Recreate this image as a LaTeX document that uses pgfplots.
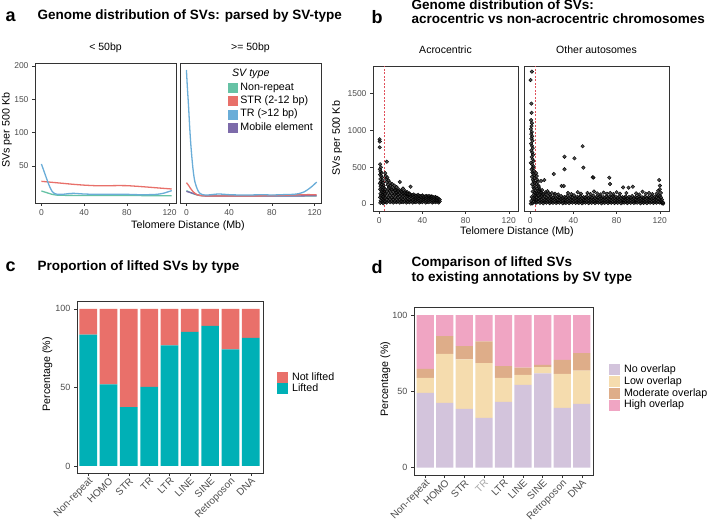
\documentclass[border=0pt]{standalone}
\usepackage{pgfplots}
\pgfplotsset{compat=1.18}
\usepackage{fontspec}
\setmainfont{Liberation Sans}

\definecolor{cNR}{HTML}{66C2A5}
\definecolor{cSTR}{HTML}{E8706A}
\definecolor{cTR}{HTML}{6AADD8}
\definecolor{cME}{HTML}{7D6BAA}
\definecolor{cLift}{HTML}{00B0B6}
\definecolor{cNot}{HTML}{E9706A}
\definecolor{cNo}{HTML}{D3C4DC}
\definecolor{cLow}{HTML}{F5DCAE}
\definecolor{cMod}{HTML}{DEAD89}
\definecolor{cHigh}{HTML}{F0A5C3}
\definecolor{tickgray}{HTML}{4D4D4D}
\definecolor{framegray}{HTML}{333333}
\definecolor{vred}{HTML}{E0505A}

\pgfplotsset{
  base/.style={scale only axis, anchor=south west,
    axis line style={framegray, line width=0.8pt},
    tick align=outside, tick pos=left, major tick length=3pt,
    tick style={framegray, line width=0.6pt},
    tick label style={tickgray, font=\fontsize{8.5}{10}\selectfont},
    /pgf/number format/assume math mode=true,
    /pgf/number format/1000 sep={},
    label style={font=\fontsize{10.7}{12}\selectfont},
    title style={font=\fontsize{10.5}{12}\selectfont},
    ylabel style={anchor=center}, xlabel style={anchor=center}},
  sqa/.style={legend image code/.code={\fill[#1] (0pt,-4.5pt) rectangle (9pt,4.5pt);}},
  sqc/.style={legend image code/.code={\fill[#1] (0pt,-5.5pt) rectangle (11pt,5.5pt);}},
  sline/.style={line width=1.3pt, smooth, tension=0.4, no markers},
  dots/.style={only marks, mark=*, mark size=1.8pt, mark options={fill=black!85, draw=none, fill opacity=0.8}},
  vline/.style={vred, line width=0.7pt, dash pattern=on 2pt off 1.5pt},
}

\begin{document}
\begin{tikzpicture}
\useasboundingbox (0,0) rectangle (708pt,522pt);

% ---------- panel a ----------
\begin{axis}[base, at={(35pt,319pt)}, width=141pt, height=140pt,
  xmin=-6, xmax=126, ymin=-5.5, ymax=204.5,
  xtick={0,40,80,120}, ytick={50,100,150,200},
  title={< 50bp}, title style={at={(axis description cs:0.5,1)}, anchor=center, yshift=9pt},
  ylabel={SVs per 500 Kb}, ylabel style={at={(axis description cs:-0.199,0.52)}},
  xlabel={Telomere Distance (Mb)}, xlabel style={at={(axis description cs:1.085,-0.16)}}]
\addplot[sline, cNR] coordinates {(0,12.5)(5,10)(10,7.5)(15,6.2)(20,6)(40,5.8)(60,5.8)(80,5.8)(100,5.5)(110,5.5)(122,5.5)};
\addplot[sline, cSTR] coordinates {(0,27)(10,25.5)(20,24)(30,22.5)(40,21.3)(50,20.5)(60,20.3)(70,20.6)(80,20.5)(90,19.5)(100,18.3)(110,17)(122,15.5)};
\addplot[sline, cTR] coordinates {(0,53)(2,44)(4,35)(6,26)(8,18)(10,12)(12,9)(15,7.5)(20,7.5)(25,8.5)(30,9)(35,8.5)(40,8)(50,7.5)(60,7.5)(70,7.5)(80,7.5)(90,7)(100,7)(108,7.5)(114,9)(118,11)(122,13)};
\end{axis}

\begin{axis}[base, at={(180pt,319pt)}, width=141pt, height=140pt,
  xmin=-6, xmax=126, ymin=-5.5, ymax=204.5,
  xtick={0,40,80,120}, ytick=\empty,
  title={>= 50bp}, title style={at={(axis description cs:0.5,1)}, anchor=center, yshift=9pt},
  legend style={at={(axis description cs:0.34,0.863)}, anchor=north west, draw=none, fill=none,
    inner sep=0pt, outer sep=0pt, font=\fontsize{10.7}{12}\selectfont, row sep=2.4pt,
    nodes={inner sep=0pt, text height=8pt, text depth=3pt},
    /tikz/every odd column/.append style={column sep=3pt}},
  legend cell align=left]
\addplot[sline, cNR, forget plot] coordinates {(0,13)(4,10)(8,7.5)(12,6)(20,5)(40,5)(60,5)(80,5)(100,5)(122,5)};
\addplot[sline, cME, forget plot] coordinates {(0,12)(4,10)(8,8)(12,6)(20,5)(40,5)(60,5)(80,5)(100,5)(122,5.5)};
\addplot[sline, cSTR, forget plot] coordinates {(0,25)(2,21)(4,16)(6,12)(8,9)(10,7)(14,5.5)(20,5)(40,5)(60,5)(80,5.5)(100,6.5)(110,7)(122,7)};
\addplot[sline, cTR, forget plot] coordinates {(0,194)(1,165)(2,140)(3,110)(4,85)(5,65)(6,48)(7,35)(8,26)(10,16)(12,10)(15,7)(20,6.5)(30,8)(40,7)(50,6.5)(60,6.5)(70,7)(80,6.5)(90,7)(100,7.5)(105,8.5)(110,11)(114,15)(118,20)(122,26)};
\addlegendimage{sqa=cNR}\addlegendentry{Non-repeat}
\addlegendimage{sqa=cSTR}\addlegendentry{STR (2-12 bp)}
\addlegendimage{sqa=cTR}\addlegendentry{TR (>12 bp)}
\addlegendimage{sqa=cME}\addlegendentry{Mobile element}
\end{axis}
\node[anchor=base west, font=\fontsize{10.7}{12}\selectfont\itshape] at (228.5pt,445pt) {SV type};

% ---------- panel b ----------
\begin{axis}[base, at={(373pt,311pt)}, width=145pt, height=145pt,
  xmin=-5.8, xmax=128.5, ymin=-95, ymax=1876,
  xtick={0,40,80,120}, ytick={0,500,1000,1500},
  title={Acrocentric}, title style={at={(axis description cs:0.5,1)}, anchor=center, yshift=10pt},
  ylabel={SVs per 500 Kb}, ylabel style={at={(axis description cs:-0.248,0.5)}},
  xlabel={Telomere Distance (Mb)}, xlabel style={at={(axis description cs:0.993,-0.145)}}]
\addplot[dots] coordinates {
(0.3,880)(0.5,850)(0.4,770)(7,575)(0.8,540)(1.5,500)(0.5,470)(1.2,440)(2,420)(0.7,400)(1.8,380)(2.6,360)(1,340)(3,320)(1.5,300)(3.5,290)(0.6,280)(2.2,260)(4,250)(1.3,240)(2.8,230)(4.3,215)(0.9,200)(3.3,190)(1.9,180)(4.6,170)(2.5,160)(3.8,150)(1.1,140)(4.9,130)(2.9,120)(1.6,110)(3.6,100)(0.7,90)(4.4,80)(2.3,70)(3.1,55)(1.4,45)(4.1,35)(2.7,25)(0.9,15)(3.6,10)
(5.5,420)(6,380)(6.5,340)(7,300)(7.5,360)(8,260)(8.5,320)(9,230)(10,290)(10.5,250)(11,200)(12,270)(13,220)(14,250)(15,190)(16,230)(17,170)(18,200)(19,300)(20,180)(21,160)(22,210)(23,150)(24,175)(25,140)(26,160)(27,130)(28,145)(29,235)(30,120)(32,130)(34,110)(36,125)(38,105)(40,115)(42,100)(44,110)(46,95)(48,105)(50,90)(52,95)(54,80)
(5.5,30)(5.5,80)(5.5,140)(5.5,200)(7,20)(7,60)(7,110)(7,170)(8.5,40)(8.5,90)(8.5,150)(8.5,210)(10,25)(10,70)(10,120)(10,180)
(11.5,35)(11.5,85)(11.5,140)(11.5,195)(13,20)(13,65)(13,115)(13,165)(14.5,30)(14.5,80)(14.5,130)(14.5,185)(16,25)(16,70)(16,120)(16,160)
(17.5,35)(17.5,85)(17.5,130)(17.5,175)(19,20)(19,60)(19,105)(19,150)(20.5,30)(20.5,75)(20.5,120)(20.5,165)(22,25)(22,65)(22,110)(22,145)
(23.5,35)(23.5,80)(23.5,120)(23.5,160)(25,20)(25,60)(25,100)(25,140)(26.5,30)(26.5,70)(26.5,110)(26.5,135)(28,25)(28,60)(28,95)(28,130)
(29.5,35)(29.5,75)(29.5,105)(31,20)(31,55)(31,90)(31,120)(32.5,30)(32.5,65)(32.5,100)(34,25)(34,55)(34,85)(34,115)(35.5,35)(35.5,70)(35.5,100)
(37,20)(37,50)(37,80)(37,110)(38.5,30)(38.5,60)(38.5,95)(40,25)(40,55)(40,85)(40,115)(41.5,35)(41.5,65)(41.5,95)(43,20)(43,50)(43,80)(43,105)
(44.5,30)(44.5,60)(44.5,90)(46,25)(46,55)(46,85)(46,110)(47.5,35)(47.5,65)(47.5,95)(49,20)(49,50)(49,80)(49,100)(50.5,30)(50.5,60)(50.5,90)
(52,25)(52,50)(52,75)(52,95)(53.5,30)(53.5,55)(53.5,85)(55,20)(55,45)(55,70)(56,35)(56,60)
};
\addplot[vline] coordinates {(5,-95)(5,1876)};
\end{axis}

\begin{axis}[base, at={(524pt,311pt)}, width=145pt, height=145pt,
  xmin=-5.8, xmax=128.5, ymin=-95, ymax=1876,
  xtick={0,40,80,120}, ytick=\empty,
  title={Other autosomes}, title style={at={(axis description cs:0.5,1)}, anchor=center, yshift=10pt}]
\addplot[dots] coordinates {
(1.5,1800)(0.3,1685)(1,1365)(1.2,1240)(0.8,1140)(1.5,1100)(1.2,1060)(0.6,1020)(1.4,980)(0.9,950)(1.8,920)(1.1,890)(2,860)(0.7,820)(1.6,790)(2.3,760)(1,730)(1.9,700)(2.6,670)(1.3,640)(2.1,610)(2.8,580)(0.5,560)(1.7,540)(3,510)(2.4,490)(1.2,470)(3.3,450)(2,430)(2.7,410)(3.6,390)(1.5,370)(3.9,350)(2.5,330)(3.2,310)(4.1,290)(1.8,270)(4.4,250)(2.9,230)(3.7,210)(4.7,190)(2.2,170)(4,150)(5,140)(3.4,125)(4.6,110)(1.3,95)(2.6,80)(3.9,65)(5.2,55)(0.9,40)(3,30)(4.8,20)(0.5,5)(2,10)
(5.5,420)(6,380)(6.5,330)(7,300)(5.8,270)(7.5,250)(8,230)(6.2,210)(8.5,200)(9,185)(7.2,175)(9.5,160)(10,150)(6.8,140)(8.8,130)(10,313)(13,326)(11,120)(12,135)(14,140)(16,175)(18,130)(20,150)
(6,20)(6,55)(6,95)(7.5,35)(7.5,75)(7.5,115)(9,15)(9,50)(9,90)(10.5,28)(10.5,62)(10.5,105)(12,10)(12,45)(12,80)(13.5,25)(13.5,58)(13.5,100)
(15,18)(15,52)(15,88)(16.5,32)(16.5,68)(16.5,110)(18,12)(18,42)(18,78)(19.5,26)(19.5,60)(19.5,96)(21,16)(21,50)(21,85)(22.5,30)(22.5,66)(22.5,120)
(24,14)(24,44)(24,80)(25.5,24)(25.5,58)(25.5,98)(27,18)(27,52)(27,88)(28.5,34)(28.5,70)(28.5,108)(30,10)(30,46)(30,82)(31.5,22)(31.5,56)(31.5,94)
(33,16)(33,50)(33,86)(34.5,28)(34.5,64)(34.5,112)(36,12)(36,44)(36,78)(37.5,26)(37.5,60)(37.5,100)(39,18)(39,52)(39,90)(40.5,30)(40.5,68)(40.5,118)
(42,14)(42,46)(42,80)(43.5,24)(43.5,58)(43.5,96)(45,16)(45,50)(45,86)(46.5,32)(46.5,66)(46.5,108)(48,10)(48,44)(48,80)(49.5,22)(49.5,56)(49.5,94)
(51,18)(51,52)(51,88)(52.5,28)(52.5,62)(52.5,104)(54,12)(54,46)(54,82)(55.5,26)(55.5,60)(55.5,98)(57,16)(57,50)(57,86)(58.5,30)(58.5,66)(58.5,114)
(60,14)(60,44)(60,78)(61.5,24)(61.5,58)(61.5,96)(63,18)(63,52)(63,90)(64.5,32)(64.5,68)(64.5,110)(66,10)(66,46)(66,80)(67.5,22)(67.5,56)(67.5,94)
(69,16)(69,50)(69,86)(70.5,28)(70.5,64)(70.5,106)(72,12)(72,44)(72,78)(73.5,26)(73.5,60)(73.5,100)(75,18)(75,52)(75,88)(76.5,30)(76.5,66)(76.5,116)
(78,14)(78,46)(78,80)(79.5,24)(79.5,58)(79.5,96)(81,16)(81,50)(81,84)(82.5,32)(82.5,64)(82.5,108)(84,10)(84,44)(84,78)(85.5,22)(85.5,56)(85.5,92)
(87,18)(87,52)(87,88)(88.5,28)(88.5,62)(88.5,102)(90,12)(90,46)(90,80)(91.5,26)(91.5,60)(91.5,96)(93,16)(93,50)(93,86)(94.5,30)(94.5,66)(94.5,110)
(96,14)(96,44)(96,76)(97.5,24)(97.5,58)(97.5,94)(99,18)(99,52)(99,88)(100.5,32)(100.5,64)(100.5,104)(102,10)(102,44)(102,78)(103.5,22)(103.5,56)(103.5,92)
(105,16)(105,50)(105,84)(106.5,28)(106.5,62)(106.5,100)(108,12)(108,46)(108,80)(109.5,26)(109.5,60)(109.5,96)(111,18)(111,52)(111,86)(112.5,30)(112.5,66)(112.5,108)
(114,14)(114,46)(114,82)(115.5,24)(115.5,60)(115.5,100)(117,18)(117,55)(117,95)(117,140)(118.5,30)(118.5,70)(118.5,120)(118.5,180)
(120,20)(120,60)(120,110)(120,200)(120,250)(121,40)(121,90)(121,150)(122,10)(122,30)(122,60)(123,5)(123,20)
(8,170)(11,190)(14,160)(17,150)(23,140)(26,130)(29,245)(31,245)(35,150)(38,135)(44,160)(47,140)(53,150)(56,135)(59,170)(62,145)(65,130)(68,155)(71,140)(74,150)(77,135)(80,160)(83,140)(86,225)(89,150)(91,222)(95,235)(98,145)(101,130)(104,167)(107,140)(110,150)(113,135)
(48.5,785)(31.7,643)(40.9,621)(31.7,472)(49.2,494)(21.8,408)(57.8,363)(58.5,360)(73.2,358)(73.8,272)(119.4,326)
};
\addplot[vline] coordinates {(5,-95)(5,1876)};
\end{axis}

% ---------- panel c ----------
\begin{axis}[base, at={(77pt,49pt)}, width=186pt, height=172pt,
  ybar stacked, bar width=0.87,
  xmin=0.45, xmax=9.6, ymin=-4.5, ymax=105,
  ytick={0,50,100}, yticklabel style={font=\fontsize{9}{10}\selectfont},
  xtick={1,...,9},
  xticklabels={Non-repeat,HOMO,STR,TR,LTR,LINE,SINE,Retroposon,DNA},
  xticklabel style={rotate=45, anchor=north east, font=\fontsize{10}{12}\selectfont, inner sep=0.5pt},
  ylabel={Percentage (\%)}, ylabel style={at={(axis description cs:-0.16,0.573)}},
  legend style={at={(axis description cs:1.074,0.587)}, anchor=north west, draw=none, fill=none,
    inner sep=0pt, outer sep=0pt, font=\fontsize{10.7}{12}\selectfont, row sep=0.3pt,
    nodes={inner sep=0pt, text height=8pt, text depth=3pt},
    /tikz/every odd column/.append style={column sep=4.3pt}},
  legend cell align=left, reverse legend]
\addplot[fill=cLift, draw=none, sqc=cLift] coordinates {(1,83.6)(2,52.0)(3,37.5)(4,50.4)(5,76.7)(6,85.4)(7,89.2)(8,74.2)(9,81.6)};
\addlegendentry{Lifted}
\addplot[fill=cNot, draw=none, sqc=cNot] coordinates {(1,16.4)(2,48.0)(3,62.5)(4,49.6)(5,23.3)(6,14.6)(7,10.8)(8,25.8)(9,18.4)};
\addlegendentry{Not lifted}
\end{axis}

% ---------- panel d ----------
\begin{axis}[base, at={(414pt,47pt)}, width=179pt, height=167.3pt,
  ybar stacked, bar width=0.88,
  xmin=0.43, xmax=9.57, ymin=-4.8, ymax=104.8,
  ytick={0,50,100}, yticklabel style={font=\fontsize{9}{10}\selectfont},
  xtick={1,...,9},
  xticklabels={Non-repeat,HOMO,STR,\textcolor{gray!70}{TR},LTR,LINE,SINE,Retroposon,DNA},
  xticklabel style={rotate=45, anchor=north east, font=\fontsize{10}{12}\selectfont, inner sep=0.5pt},
  ylabel={Percentage (\%)}, ylabel style={at={(axis description cs:-0.16,0.574)}},
  legend style={at={(axis description cs:1.088,0.662)}, anchor=north west, draw=none, fill=none,
    inner sep=0pt, outer sep=0pt, font=\fontsize{10.7}{12}\selectfont, row sep=0.9pt,
    nodes={inner sep=0pt, text height=8pt, text depth=3pt},
    /tikz/every odd column/.append style={column sep=4.3pt}},
  legend cell align=left]
\addplot[fill=cNo, draw=none, sqc=cNo] coordinates {(1,49.0)(2,42.5)(3,38.6)(4,32.6)(5,43.1)(6,54.3)(7,61.7)(8,39.2)(9,41.8)};
\addlegendentry{No overlap}
\addplot[fill=cLow, draw=none, sqc=cLow] coordinates {(1,9.8)(2,32.0)(3,32.3)(4,35.9)(5,15.8)(6,6.5)(7,4.2)(8,22.3)(9,21.7)};
\addlegendentry{Low overlap}
\addplot[fill=cMod, draw=none, sqc=cMod] coordinates {(1,5.9)(2,11.6)(3,8.7)(4,14.2)(5,7.6)(6,4.8)(7,1.5)(8,9.2)(9,11.6)};
\addlegendentry{Moderate overlap}
\addplot[fill=cHigh, draw=none, sqc=cHigh] coordinates {(1,35.3)(2,13.9)(3,20.4)(4,17.3)(5,33.5)(6,34.4)(7,32.6)(8,29.3)(9,24.9)};
\addlegendentry{High overlap}
\end{axis}

% ---------- titles ----------
\node[anchor=base west, font=\fontsize{18}{20}\selectfont\bfseries] at (2pt,500.5pt) {a};
\node[anchor=base west, font=\fontsize{13.5}{15}\selectfont\bfseries] at (34pt,502pt) {Genome distribution of SVs: parsed by SV-type};
\node[anchor=base west, font=\fontsize{18}{20}\selectfont\bfseries] at (368pt,498.5pt) {b};
\node[anchor=base west, font=\fontsize{13.5}{15}\selectfont\bfseries] at (408pt,512.5pt) {Genome distribution of SVs:};
\node[anchor=base west, font=\fontsize{13.5}{15}\selectfont\bfseries] at (408pt,498pt) {acrocentric vs non-acrocentric chromosomes};
\node[anchor=base west, font=\fontsize{18}{20}\selectfont\bfseries] at (2pt,250pt) {c};
\node[anchor=base west, font=\fontsize{13.5}{15}\selectfont\bfseries] at (34pt,251.5pt) {Proportion of lifted SVs by type};
\node[anchor=base west, font=\fontsize{18}{20}\selectfont\bfseries] at (368pt,248pt) {d};
\node[anchor=base west, font=\fontsize{13.5}{15}\selectfont\bfseries] at (408pt,255pt) {Comparison of lifted SVs};
\node[anchor=base west, font=\fontsize{13.5}{15}\selectfont\bfseries] at (408pt,240pt) {to existing annotations by SV type};
\end{tikzpicture}
\end{document}
